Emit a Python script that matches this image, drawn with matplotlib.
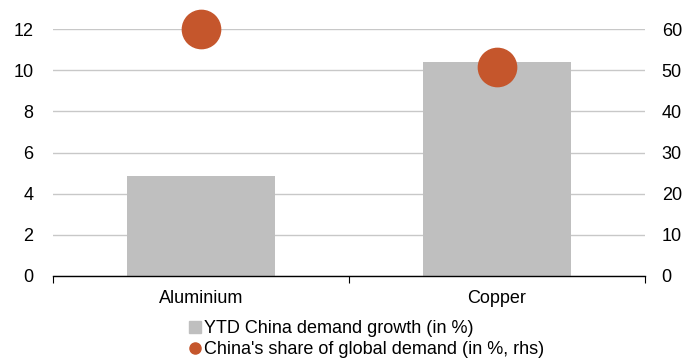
import matplotlib
matplotlib.use("Agg")
import matplotlib.pyplot as plt
from matplotlib.lines import Line2D
import numpy as np

categories = ["Aluminium", "Copper"]
demand_growth = [4.85, 10.4]
china_share = [60.0, 50.7]

plt.rcParams['font.family'] = ['Liberation Sans', 'DejaVu Sans']

bar_color = "#BFBFBF"
dot_color = "#C5562C"
grid_color = "#C8C8C8"
fs = 13

fig = plt.figure(figsize=(6.96, 3.62), dpi=100)
ax = fig.add_axes([53/696, 1-276/362, (645-53)/696, (276-29)/362*1.0])
x = np.arange(len(categories))
ax.bar(x, demand_growth, width=0.5, color=bar_color, zorder=2)
ax.set_xlim(-0.5, 1.5)
ax.set_ylim(0, 12)
ax.set_yticks(np.arange(0, 13, 2))
ax.grid(axis='y', color=grid_color, linewidth=1.0, zorder=0)
for s in ['top', 'right', 'left']:
    ax.spines[s].set_visible(False)
ax.spines['bottom'].set_color('black')
ax.spines['bottom'].set_linewidth(1.0)
ax.set_xticks([-0.5, 0.5, 1.5], minor=False)
ax.set_xticklabels([])
ax.tick_params(axis='x', which='major', length=5, direction='out', color='black')
ax.set_xticks(x, minor=True)
ax.set_xticklabels(categories, minor=True)
ax.tick_params(axis='x', which='minor', length=0, labelsize=fs, pad=10)
ax.tick_params(axis='y', length=0, labelsize=fs, pad=14)

ax2 = ax.twinx()
ax2.set_ylim(0, 60)
ax2.set_yticks(np.arange(0, 61, 10))
ax2.scatter(x, china_share, s=760, color=dot_color, zorder=5, clip_on=False)
for s in ['top', 'right', 'left', 'bottom']:
    ax2.spines[s].set_visible(False)
ax2.tick_params(axis='y', length=0, labelsize=fs, pad=12)

handles = [
    Line2D([], [], marker='s', linestyle='none', color=bar_color, markersize=8),
    Line2D([], [], marker='o', linestyle='none', color=dot_color, markersize=8),
]
labels = ["YTD China demand growth (in %)", "China's share of global demand (in %, rhs)"]
fig.legend(handles, labels, loc='lower center', bbox_to_anchor=(0.524, -0.02),
           frameon=False, fontsize=fs, handletextpad=0.0, labelspacing=0.25,
           handlelength=1.0, borderaxespad=0.2)

fig.savefig("out.png", dpi=100)
